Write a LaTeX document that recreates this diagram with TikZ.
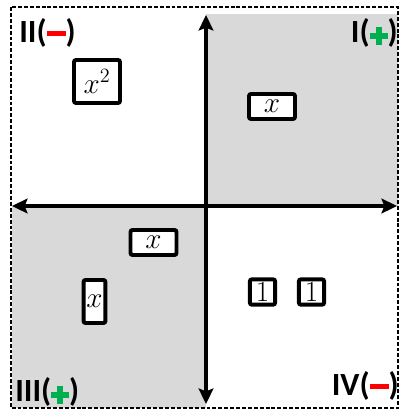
\documentclass[tikz,border=0pt]{standalone}
\usepackage{fontspec}
\usetikzlibrary{arrows.meta}
\newfontfamily\quadfont{Carlito}
\definecolor{quadgray}{HTML}{D9D9D9}
\definecolor{signred}{HTML}{FF0000}
\definecolor{signgreen}{HTML}{00B050}
% heavy signs for the quadrant labels
\newcommand\minusmark{\textcolor{signred}{\rule[4.2pt]{13.5pt}{3.6pt}}}
\newcommand\plusmark{\textcolor{signgreen}{\rlap{\rule[2.15pt]{12.8pt}{4.3pt}}\hspace{4.25pt}\rule[-2.1pt]{4.3pt}{12.8pt}\hspace{4.25pt}}}
\tikzset{
	tile/.style={draw, line width=2.8pt, rounded corners=1.5pt, fill=white, inner sep=0pt, font=\huge},
	quad/.style={inner sep=0pt, font=\quadfont\fontsize{23}{26}\selectfont\bfseries},
	axis/.style={line width=2.8pt, {Stealth[length=11pt, width=10.5pt, inset=2pt]}-{Stealth[length=11pt, width=10.5pt, inset=2pt]}}
}

\begin{document}
\begin{tikzpicture}[x=0.025cm, y=-0.025cm]
			%%%%% START %%%%%
			\useasboundingbox (0, 0) rectangle (400, 410);
			
			% shaded quadrants
			\fill[quadgray] (206, 14) rectangle (398, 206);
			\fill[quadgray] (12, 206) rectangle (206, 408);
			
			\draw[line width=0.75pt, dash pattern=on 2.8pt off 1.4pt] (11, 7) rectangle (398, 408);
			
			% axes
			\coordinate (left) at (12, 206);
			\coordinate (right) at (397, 206);
			\coordinate (top) at (206, 15);
			\coordinate (bottom) at (206, 404);
			\draw[axis] (left) -- (right);
			\draw[axis] (bottom) -- (top);
			
			% quadrant names
			\node[quad, anchor=base west] (q2) at (19, 42) {II(\minusmark)};
			\node[quad, anchor=base east] (q1) at (398, 42) {I(\plusmark)};
			\node[quad, anchor=base west] (q3) at (15, 401) {III(\plusmark)};
			\node[quad, anchor=base east] (q4) at (399, 395) {IV(\minusmark)};
			
			% tiles
			\node[tile, minimum width=32.7pt, minimum height=30.6pt] (xsq) at (97, 81.5) {$x^2$};
			\node[tile, minimum width=32.7pt, minimum height=17.8pt] (xone) at (272, 106.5) {$x$};
			\node[tile, minimum width=32.7pt, minimum height=17.8pt] (xthree) at (153.5, 242.5) {$x$};
			\node[tile, minimum width=15.6pt, minimum height=30.6pt] (xvert) at (94.5, 301.5) {$x$};
			\node[tile, minimum width=18pt, minimum height=18pt] (onea) at (262.5, 292) {$1$};
			\node[tile, minimum width=18pt, minimum height=18pt] (oneb) at (311.5, 292) {$1$};
			
			%%%%% END %%%%%
		\end{tikzpicture}
\end{document}
